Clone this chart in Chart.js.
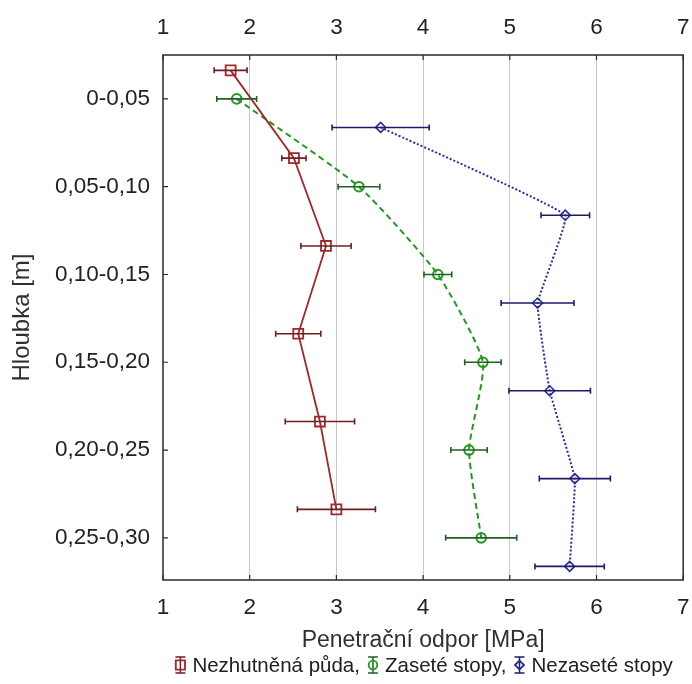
<!DOCTYPE html>
<html>
<head>
<meta charset="utf-8">
<script src="https://cdn.jsdelivr.net/npm/chart.js@4"></script>
<style>
  html, body { margin: 0; padding: 0; background: #fff; }
  #wrap { width: 692px; height: 684px; }
</style>
</head>
<body>
<div id="wrap"><canvas id="penChart"></canvas></div>
<script>
// --- data: depth classes and penetration resistance (mean +/- error) ---
const depthLabels = ['0-0,05', '0,05-0,10', '0,10-0,15', '0,15-0,20', '0,20-0,25', '0,25-0,30'];
const xTickValues = [1, 2, 3, 4, 5, 6, 7];

const seriesNames = ['Nezhutněná půda', 'Zaseté stopy', 'Nezaseté stopy'];

const nezhutnenaMean = [1.78, 2.51, 2.88, 2.56, 2.81, 3.00];
const nezhutnenaErr  = [0.19, 0.14, 0.29, 0.26, 0.40, 0.45];

const zaseteMean = [1.85, 3.26, 4.17, 4.69, 4.53, 4.67];
const zaseteErr  = [0.23, 0.24, 0.16, 0.21, 0.21, 0.41];

const nezaseteMean = [3.51, 5.64, 5.32, 5.46, 5.75, 5.69];
const nezaseteErr  = [0.56, 0.28, 0.42, 0.47, 0.41, 0.40];

// --- styling ---
const FONT = "'Liberation Sans', Arial, sans-serif";
const RED = '#a02828', GREEN = '#1f9a1f', BLUE = '#2b2b9c';
const slotOffset = [-0.325, 0, 0.325]; // vertical shift of each series inside a depth class

function toPoints(means, shift) {
    return means.map((v, i) => ({ x: v, y: i + shift }));
}

// error bars, drawn from the same arrays through the scales
const errorBars = {
    id: 'errorBars',
    afterDatasetsDraw(chart) {
        const { ctx, scales: { x, y } } = chart;
        chart.data.datasets.forEach(ds => {
            ctx.save();
            ctx.strokeStyle = ds.errorColor;
            ctx.lineWidth = 1.6;
            ds.data.forEach((p, i) => {
                const py = y.getPixelForValue(p.y);
                const x1 = x.getPixelForValue(p.x - ds.errors[i]);
                const x2 = x.getPixelForValue(p.x + ds.errors[i]);
                ctx.beginPath();
                ctx.moveTo(x1, py); ctx.lineTo(x2, py);
                ctx.moveTo(x1, py - 3); ctx.lineTo(x1, py + 3);
                ctx.moveTo(x2, py - 3); ctx.lineTo(x2, py + 3);
                ctx.stroke();
            });
            ctx.restore();
        });
    }
};

// frame, inner tick marks, axis titles and the legend line
const frameAndText = {
    id: 'frameAndText',
    afterDraw(chart) {
        const { ctx, chartArea: a, scales } = chart;
        ctx.save();
        ctx.strokeStyle = '#2a2a2a';
        ctx.lineWidth = 1.5;
        ctx.strokeRect(a.left, a.top, a.right - a.left, a.bottom - a.top);

        ctx.lineWidth = 1.2;
        ctx.beginPath();
        scales.x.ticks.forEach(t => {
            const px = scales.x.getPixelForValue(t.value);
            ctx.moveTo(px, a.bottom); ctx.lineTo(px, a.bottom - 5);
            ctx.moveTo(px, a.top); ctx.lineTo(px, a.top + 5);
        });
        scales.y.ticks.forEach(t => {
            const py = scales.y.getPixelForValue(t.value);
            ctx.moveTo(a.left, py); ctx.lineTo(a.left + 5, py);
        });
        ctx.stroke();

        // axis titles
        ctx.fillStyle = '#303030';
        ctx.font = `23px ${FONT}`;
        ctx.textAlign = 'center';
        ctx.textBaseline = 'middle';
        const cx = (a.left + a.right) / 2;
        ctx.fillText('Penetrační odpor [MPa]', cx, 641);
        ctx.save();
        ctx.font = `24px ${FONT}`;
        ctx.translate(22, (a.top + a.bottom) / 2);
        ctx.rotate(-Math.PI / 2);
        ctx.fillText('Hloubka [m]', 0, 0);
        ctx.restore();

        // legend: icon + name, separated by commas
        ctx.font = `20.5px ${FONT}`;
        ctx.textAlign = 'left';
        const ly = 665;
        const items = chart.data.datasets.map((ds, i) => ({
            ds, text: seriesNames[i] + (i < seriesNames.length - 1 ? ',' : '')
        }));
        const iconW = 14, gap = 5, sep = 6;
        let total = 0;
        items.forEach((it, i) => {
            it.w = ctx.measureText(it.text).width;
            total += iconW + gap + it.w + (i < items.length - 1 ? sep : 0);
        });
        let lx = cx - total / 2;
        items.forEach(it => {
            const ix = lx + iconW / 2;
            ctx.strokeStyle = it.ds.errorColor;
            ctx.lineWidth = 1.5;
            ctx.beginPath();
            ctx.moveTo(ix, ly - 8); ctx.lineTo(ix, ly + 8);
            ctx.moveTo(ix - 5, ly - 8); ctx.lineTo(ix + 5, ly - 8);
            ctx.moveTo(ix - 5, ly + 8); ctx.lineTo(ix + 5, ly + 8);
            ctx.stroke();
            ctx.strokeStyle = it.ds.borderColor;
            ctx.fillStyle = 'rgba(0,0,0,0)';
            ctx.lineWidth = 1.8;
            Chart.helpers.drawPoint(ctx, {
                pointStyle: it.ds.pointStyle,
                radius: it.ds.pointRadius - 0.5,
                borderWidth: 1.8
            }, ix, ly);
            ctx.fillStyle = '#202020';
            ctx.fillText(it.text, lx + iconW + gap, ly + 1);
            lx += iconW + gap + it.w + sep;
        });
        ctx.restore();
    }
};

const datasets = [
    {
        label: seriesNames[0],
        data: toPoints(nezhutnenaMean, slotOffset[0]),
        errors: nezhutnenaErr,
        borderColor: RED,
        errorColor: '#6e1f1f',
        borderWidth: 1.8,
        pointStyle: 'rect',
        pointRadius: 7,
        pointBorderWidth: 1.8,
        pointBackgroundColor: 'rgba(0,0,0,0)',
        tension: 0
    },
    {
        label: seriesNames[1],
        data: toPoints(zaseteMean, slotOffset[1]),
        errors: zaseteErr,
        borderColor: GREEN,
        errorColor: '#245e24',
        borderWidth: 2,
        borderDash: [6, 4],
        pointStyle: 'circle',
        pointRadius: 4.8,
        pointBorderWidth: 2,
        pointBackgroundColor: 'rgba(0,0,0,0)',
        tension: 0.18
    },
    {
        label: seriesNames[2],
        data: toPoints(nezaseteMean, slotOffset[2]),
        errors: nezaseteErr,
        borderColor: BLUE,
        errorColor: '#1c1c6a',
        borderWidth: 2,
        borderDash: [2, 2],
        pointStyle: 'rectRot',
        pointRadius: 5,
        pointBorderWidth: 1.6,
        pointBackgroundColor: 'rgba(0,0,0,0)',
        tension: 0.08
    }
];

const tickFont = { family: FONT, size: 22.5 };

new Chart(document.getElementById('penChart'), {
    type: 'scatter',
    data: { datasets: datasets.map(d => ({ ...d, showLine: true })) },
    options: {
        responsive: true,
        maintainAspectRatio: false,
        animation: false,
        layout: { padding: { left: 0, right: 4, top: 0, bottom: 0 } },
        plugins: { legend: { display: false }, tooltip: { enabled: false } },
        scales: {
            x: {
                type: 'linear', position: 'bottom',
                min: 1, max: 7,
                afterBuildTicks: s => { s.ticks = xTickValues.map(v => ({ value: v })); },
                afterFit: s => { s.height = 104; s.paddingLeft = 0; s.paddingRight = 0; },
                ticks: { font: tickFont, color: '#222', padding: 14, maxRotation: 0 },
                grid: {
                    drawTicks: false,
                    color: '#c8c8c8',
                    lineWidth: c => (c.tick && (c.tick.value === 1 || c.tick.value === 7)) ? 0 : 1
                },
                border: { display: false }
            },
            x2: {
                type: 'linear', position: 'top', axis: 'x',
                min: 1, max: 7,
                afterBuildTicks: s => { s.ticks = xTickValues.map(v => ({ value: v })); },
                afterFit: s => { s.height = 55; s.paddingLeft = 0; s.paddingRight = 0; },
                ticks: { font: tickFont, color: '#222', padding: 14, maxRotation: 0 },
                grid: { display: false, drawTicks: false },
                border: { display: false }
            },
            y: {
                type: 'linear', position: 'left', reverse: true,
                min: -0.5, max: 5.48,
                afterBuildTicks: s => { s.ticks = depthLabels.map((_, i) => ({ value: i })); },
                afterFit: s => { s.width = 163; s.paddingTop = 0; s.paddingBottom = 0; },
                ticks: {
                    font: tickFont, color: '#222', padding: 13,
                    callback: v => depthLabels[v]
                },
                grid: { display: false, drawTicks: false },
                border: { display: false }
            }
        }
    },
    plugins: [errorBars, frameAndText]
});
</script>
</body>
</html>
